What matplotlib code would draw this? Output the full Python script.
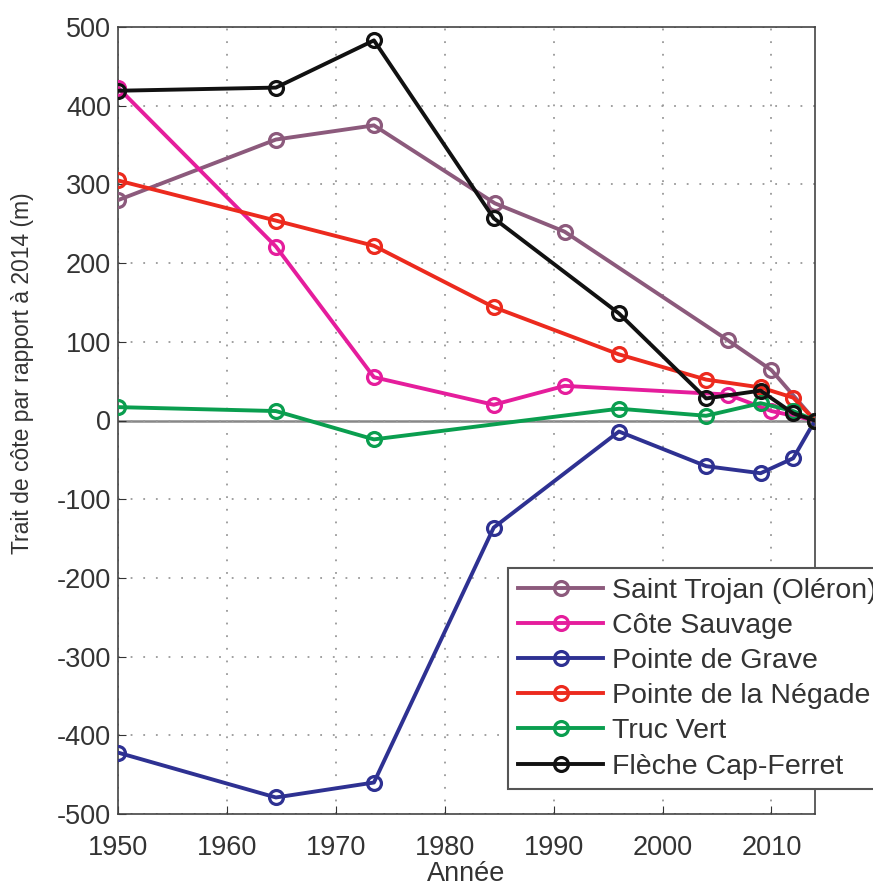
import matplotlib.pyplot as plt

# years and shoreline position relative to 2014 (m)
years_trojan = [1950, 1964.5, 1973.5, 1984.6, 1991, 2006, 2010, 2014]
trojan = [280, 357, 375, 276, 240, 102, 64, 0]

years_sauvage = [1950, 1964.5, 1973.5, 1984.5, 1991, 2006, 2010, 2014]
sauvage = [423, 221, 55, 20, 44, 33, 12, 0]

years_grave = [1950, 1964.5, 1973.5, 1984.5, 1996, 2004, 2009, 2012, 2014]
grave = [-422, -479, -460, -136, -14, -58, -67, -48, 0]

years_negade = [1950, 1964.5, 1973.5, 1984.5, 1996, 2004, 2009, 2012, 2014]
negade = [305, 254, 222, 144, 84, 52, 42, 29, 0]

years_truc = [1950, 1964.5, 1973.5, 1996, 2004, 2009, 2012, 2014]
truc = [17, 12, -24, 15, 6, 22, 12, 0]

years_ferret = [1950, 1964.5, 1973.5, 1984.5, 1996, 2004, 2009, 2012, 2014]
ferret = [419, 423, 483, 257, 136, 28, 38, 9, 0]

labels = ["Saint Trojan (Oléron)", "Côte Sauvage", "Pointe de Grave",
          "Pointe de la Négade", "Truc Vert", "Flèche Cap-Ferret"]
colors = ["#8c5a7c", "#e51d9c", "#2e3192", "#ec2a1e", "#0a9e4f", "#111111"]
series = [(years_trojan, trojan), (years_sauvage, sauvage), (years_grave, grave),
          (years_negade, negade), (years_truc, truc), (years_ferret, ferret)]

plt.rcParams['font.family'] = ['Liberation Sans', 'DejaVu Sans']
plt.rcParams['axes.unicode_minus'] = False

fig = plt.figure(figsize=(8.73, 8.86), dpi=100)
ax = fig.add_axes([118 / 873, 1 - 814 / 886, (815 - 118) / 873, (814 - 27) / 886])

ax.axhline(0, color="#888888", lw=1.8, zorder=1)
for (x, y), lab, c in zip(series, labels, colors):
    ax.plot(x, y, "-o", color=c, lw=2.8, ms=10, mfc="none", mew=2.3, label=lab, zorder=3)

ax.set_xlim(1950, 2014)
ax.set_ylim(-500, 500)
ax.set_xticks(range(1950, 2011, 10))
ax.set_yticks(range(-500, 501, 100))
ax.grid(True, linestyle=(0, (1, 6)), color="#999999", lw=1.3)
ax.tick_params(direction="in", length=6, labelsize=19.5, colors="#333333")
ax.tick_params(axis="y", pad=5)
ax.tick_params(axis="x", pad=15)
for s in ax.spines.values():
    s.set_color("#444444")
    s.set_linewidth(1.2)

ax.set_xlabel("Année", fontsize=19.5, color="#333333", labelpad=0)
ax.set_ylabel("Trait de côte par rapport à 2014 (m)", fontsize=16.5, color="#333333")
ax.yaxis.set_label_coords(-(118 - 34) / 697, 0.56)

# legend runs past the right edge of the figure, as in the original
leg = fig.legend(loc="upper left", bbox_to_anchor=(508 / 873, 1 - 568 / 886),
                 fontsize=20.5, handlelength=3.0, labelspacing=0.32, borderpad=0.35,
                 handletextpad=0.3, fancybox=False, framealpha=1, borderaxespad=0)
leg.get_frame().set_edgecolor("#555555")
leg.get_frame().set_linewidth(1.5)
for t in leg.get_texts():
    t.set_color("#333333")

fig.savefig("out.png", dpi=100)
